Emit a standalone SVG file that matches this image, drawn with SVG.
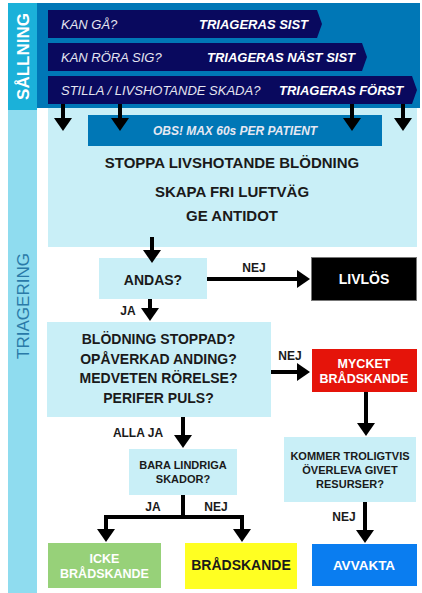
<svg xmlns="http://www.w3.org/2000/svg" width="422" height="593" viewBox="0 0 422 593">
  <style>
    text { font-family: "Liberation Sans", Arial, sans-serif; }
    .b { font-weight: bold; }
    .dk { fill: #1a1a1a; }
    .wt { fill: #ffffff; }
    .lbl { font-size: 12px; font-weight: bold; fill: #1a1a1a; }
    .box { fill: #c9eff7; }
    .ban { fill: #e4e4f0; font-size: 13px; font-style: italic; }
    .banb { fill: #ffffff; font-size: 13px; font-style: italic; font-weight: bold; }
    .navy { fill: #09095e; }
    .wire { fill: none; stroke: #000; stroke-width: 4; marker-end: url(#head); }
    .wire2 { fill: none; stroke: #000; stroke-width: 3.5; }
  </style>
  <defs>
    <marker id="head" markerUnits="userSpaceOnUse" markerWidth="14" markerHeight="18" refX="3" refY="9" orient="auto" overflow="visible">
      <path d="M0,0 L13,9 L0,18 z" fill="#000"/>
    </marker>
  </defs>

  <rect width="422" height="593" fill="#ffffff"/>

  <!-- side columns -->
  <g id="col-sallning">
    <rect x="8" y="3" width="29" height="107" fill="#1bb1d9"/>
    <text class="b wt" font-size="17" text-anchor="middle" transform="translate(29,56.5) rotate(-90)">SÅLLNING</text>
  </g>
  <g id="col-triagering">
    <rect x="8" y="110" width="29" height="483" fill="#8fdcef"/>
    <text font-size="17" fill="#2a7aa8" text-anchor="middle" transform="translate(29,306) rotate(-90)">TRIAGERING</text>
  </g>

  <!-- sorting banner -->
  <g id="banner">
    <rect x="37" y="3" width="383" height="105" fill="#0077b6"/>
    <polygon class="navy" points="48,10 317,10 322,24 317,38 48,38"/>
    <polygon class="navy" points="48,43 362,43 367,57 362,71 48,71"/>
    <polygon class="navy" points="48,76 412,76 417,90 412,104 48,104"/>
    <text class="ban" x="61" y="28.7">KAN GÅ?</text>
    <text class="banb" x="199" y="28.7">TRIAGERAS SIST</text>
    <text class="ban" x="61" y="61.7">KAN RÖRA SIG?</text>
    <text class="banb" x="207" y="61.7">TRIAGERAS NÄST SIST</text>
    <text class="ban" x="61" y="94.7">STILLA / LIVSHOTANDE SKADA?</text>
    <text class="banb" x="279" y="94.7">TRIAGERAS FÖRST</text>
  </g>

  <!-- first actions -->
  <g id="actions">
    <rect class="box" x="48" y="108" width="369" height="139"/>
    <rect x="88" y="115" width="294" height="31" fill="#0077b6"/>
    <text x="235" y="135.3" font-size="12" font-style="italic" class="b" fill="#e6e8f2" text-anchor="middle">OBS! MAX 60s PER PATIENT</text>
    <text class="b dk" x="232" y="168.4" font-size="15" text-anchor="middle">STOPPA LIVSHOTANDE BLÖDNING</text>
    <text class="b dk" x="232" y="197.4" font-size="15" text-anchor="middle">SKAPA FRI LUFTVÄG</text>
    <text class="b dk" x="232" y="221.4" font-size="15" text-anchor="middle">GE ANTIDOT</text>
  </g>

  <g id="andas">
    <rect class="box" x="99" y="258" width="108" height="41"/>
    <text class="b dk" x="153" y="285" font-size="14" text-anchor="middle">ANDAS?</text>
  </g>

  <g id="livlos">
    <rect x="311.5" y="257.5" width="105" height="43" fill="#000" stroke="#777" stroke-width="1"/>
    <text class="b wt" x="364" y="284" font-size="14" text-anchor="middle">LIVLÖS</text>
  </g>

  <g id="checks">
    <rect class="box" x="47" y="322" width="224" height="95"/>
    <text class="b dk" x="158.5" y="344" font-size="14" text-anchor="middle">BLÖDNING STOPPAD?</text>
    <text class="b dk" x="158.5" y="364" font-size="14" text-anchor="middle">OPÅVERKAD ANDING?</text>
    <text class="b dk" x="158.5" y="383" font-size="14" text-anchor="middle">MEDVETEN RÖRELSE?</text>
    <text class="b dk" x="158.5" y="403" font-size="14" text-anchor="middle">PERIFER PULS?</text>
  </g>

  <g id="mycket">
    <rect x="312" y="349" width="105" height="43" fill="#e5140a"/>
    <text class="b wt" x="364" y="367.5" font-size="12.5" text-anchor="middle">MYCKET</text>
    <text class="b wt" x="364" y="382.5" font-size="12.5" text-anchor="middle">BRÅDSKANDE</text>
  </g>

  <g id="kommer">
    <rect class="box" x="284" y="437" width="132" height="65"/>
    <text class="b dk" x="350" y="460" font-size="11" text-anchor="middle">KOMMER TROLIGTVIS</text>
    <text class="b dk" x="350" y="474" font-size="11" text-anchor="middle">ÖVERLEVA GIVET</text>
    <text class="b dk" x="350" y="487.5" font-size="11" text-anchor="middle">RESURSER?</text>
  </g>

  <g id="bara">
    <rect class="box" x="129" y="449" width="108" height="46"/>
    <text class="b dk" x="183" y="469" font-size="11" text-anchor="middle">BARA LINDRIGA</text>
    <text class="b dk" x="183" y="483" font-size="11" text-anchor="middle">SKADOR?</text>
  </g>

  <g id="icke">
    <rect x="48" y="543" width="113" height="45" fill="#97d179"/>
    <text class="b wt" x="104.5" y="562.5" font-size="12.5" text-anchor="middle">ICKE</text>
    <text class="b wt" x="104.5" y="577.5" font-size="12.5" text-anchor="middle">BRÅDSKANDE</text>
  </g>

  <g id="bradskande">
    <rect x="185" y="543" width="112" height="46" fill="#ffff22"/>
    <text class="b dk" x="241" y="570" font-size="14" text-anchor="middle">BRÅDSKANDE</text>
  </g>

  <g id="avvakta">
    <rect x="312" y="544" width="105" height="42" fill="#0a7df0"/>
    <text class="b wt" x="364" y="570" font-size="13.5" text-anchor="middle">AVVAKTA</text>
  </g>

  <!-- connectors -->
  <g id="connectors">
    <line class="wire" x1="63" y1="104" x2="63" y2="121"/>
    <line class="wire" x1="120" y1="104" x2="120" y2="121"/>
    <line class="wire" x1="352" y1="104" x2="352" y2="121"/>
    <line class="wire" x1="403" y1="104" x2="403" y2="121"/>
    <line class="wire" x1="152" y1="237" x2="152" y2="253"/>
    <line class="wire" x1="207" y1="279" x2="300" y2="279"/>
    <line class="wire" x1="150" y1="299" x2="150" y2="311"/>
    <line class="wire" x1="271" y1="372" x2="300" y2="372"/>
    <line class="wire" x1="366" y1="392" x2="366" y2="426"/>
    <line class="wire" x1="365" y1="502" x2="365" y2="533"/>
    <line class="wire" x1="183" y1="417" x2="183" y2="438"/>
    <path class="wire" d="M183,495 V517 H106 V532" stroke-width="3.5"/>
    <path class="wire" d="M183,517 H242 V532" stroke-width="3.5"/>
  </g>

  <g id="connector-labels">
    <text class="lbl" x="254" y="272.3" text-anchor="middle">NEJ</text>
    <text class="lbl" x="128" y="315.3" text-anchor="middle">JA</text>
    <text class="lbl" x="290" y="360.3" text-anchor="middle">NEJ</text>
    <text class="lbl" x="138" y="437.3" text-anchor="middle">ALLA JA</text>
    <text class="lbl" x="153" y="511.3" text-anchor="middle">JA</text>
    <text class="lbl" x="216" y="511.3" text-anchor="middle">NEJ</text>
    <text class="lbl" x="344" y="521.3" text-anchor="middle">NEJ</text>
  </g>
</svg>
